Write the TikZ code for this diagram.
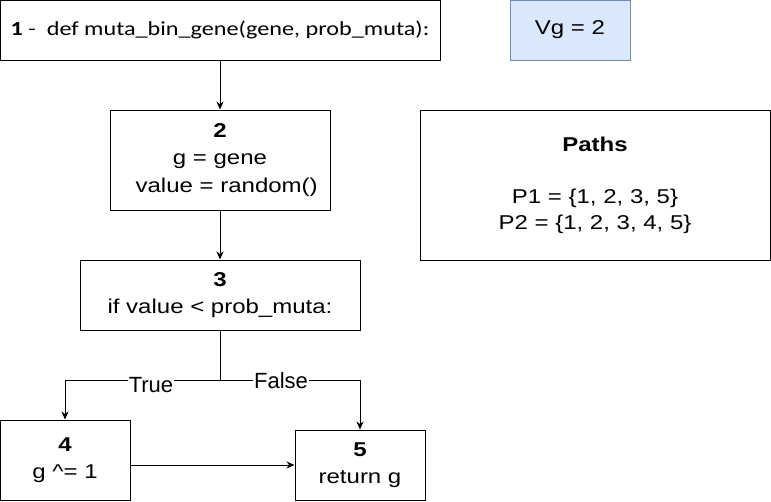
\documentclass[tikz,border=0pt]{standalone}
\usepackage{fontspec}
\setmainfont{Liberation Sans}[FakeStretch=1.2]
\newfontfamily\lblfont{Liberation Sans}
\newfontfamily\calibfont{Carlito}[FakeStretch=1.21]
\usetikzlibrary{arrows.meta}
\definecolor{vgfill}{RGB}{218, 232, 252}
\definecolor{vgline}{RGB}{108, 142, 191}

\begin{document}
\begin{tikzpicture}[
   x=1pt, y=-1pt,
   every node/.style={font=\fontsize{20}{27.5}\selectfont},
   stmt/.style={rectangle, draw=black, fill=white, line width=1, align=center,
                inner sep=0},
   vgbox/.style={rectangle, draw=vgline, fill=vgfill, line width=1, inner sep=0,
                 minimum width=120, minimum height=60},
   flow/.style={-{Stealth[length=8, width=7]}, line width=1},
   edgelbl/.style={fill=white, inner sep=1, font=\lblfont\fontsize{22}{26}\selectfont}
  ]

  \useasboundingbox (0, 0) rectangle (771, 501);

  % Statements
  \node (S1) at (220, 30) [stmt, minimum width=440, minimum height=60]
    {\calibfont\textbf{1} -\ \ def muta\_bin\_gene(gene, prob\_muta):};
  \node (S2) at (220, 160) [stmt, minimum width=220, minimum height=100]
    {\textbf{2}\\ g = gene\\ \ \ value = random()};
  \node (S3) at (220, 295) [stmt, minimum width=280, minimum height=70]
    {\textbf{3}\\ if value < prob\_muta:};
  \node (S4) at (65, 460) [stmt, minimum width=130, minimum height=80]
    {\textbf{4}\\ g \^{}= 1};
  \node (S5) at (360, 465) [stmt, minimum width=130, minimum height=70]
    {\textbf{5}\\ return g};

  % Side boxes
  \node (VG) at (570, 30) [vgbox] {Vg = 2};
  \node (PATHS) at (595, 185) [stmt, minimum width=350, minimum height=150,
                               font=\fontsize{20}{26}\selectfont]
    {\textbf{Paths}\\[26pt] P1 = \{1, 2, 3, 5\}\\ P2 = \{1, 2, 3, 4, 5\}};

  \foreach \B/\E in {S1/S2, S2/S3} {
    \draw[flow] (\B) -- (\E);
  }

  % Branch
  \coordinate (split) at (220, 380);
  \draw[line width=1] (S3) -- (split);
  \draw[flow] (split) -| (S4);
  \draw[flow] (split) -| (S5);
  \draw[flow] (S4.east |- S5) -- (S5);

  \node (T) at (151, 385) [edgelbl] {True};
  \node (F) at (281, 381) [edgelbl] {False};

\end{tikzpicture}
\end{document}
